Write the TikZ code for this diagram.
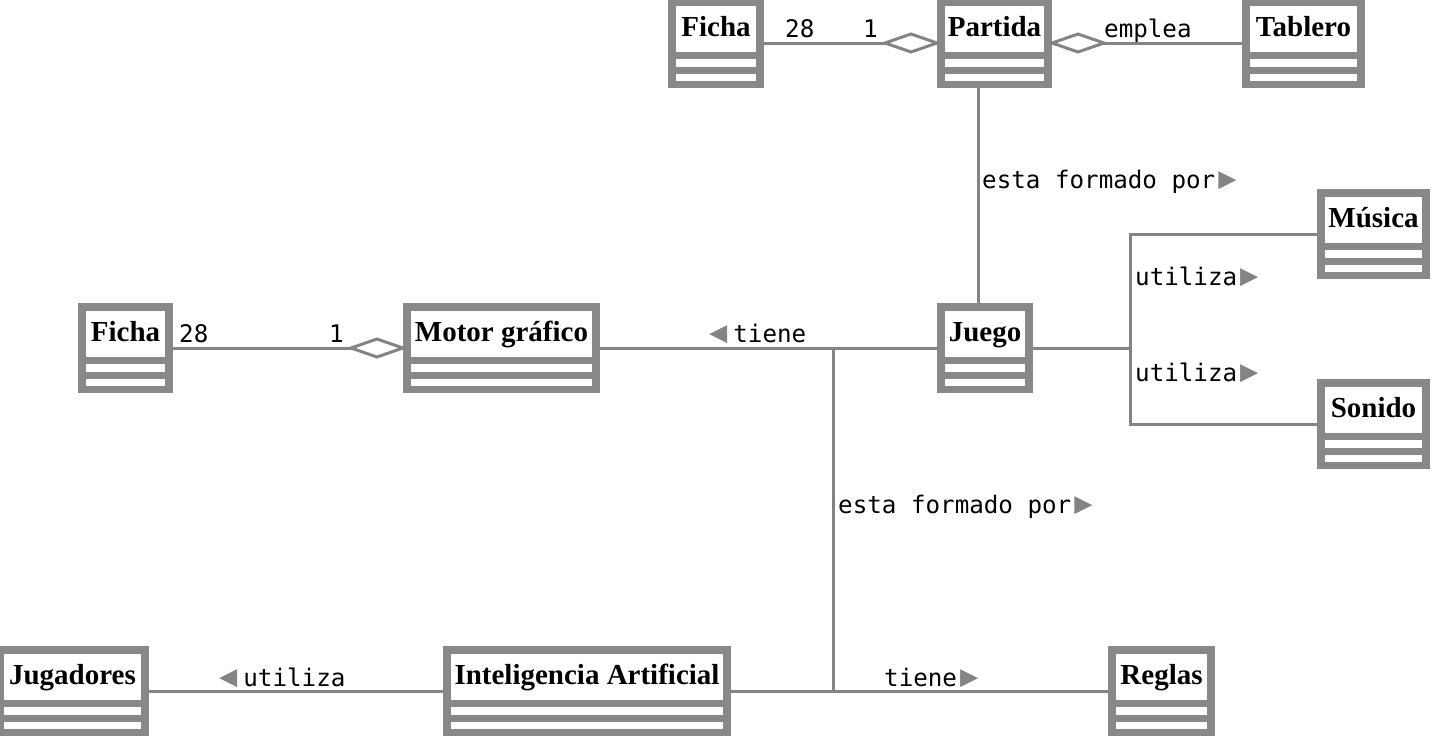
\documentclass[tikz,border=0pt]{standalone}
\usepackage{fontspec}
\setmainfont{Liberation Serif}
\setmonofont{DejaVu Sans Mono}
\definecolor{boxgray}{RGB}{136,136,136}
\definecolor{linegray}{RGB}{132,132,132}
\newcommand{\rtri}{\hspace{3pt}\textcolor{linegray}{\scalebox{1.25}{▶}}}
\newcommand{\ltri}{\textcolor{linegray}{\scalebox{1.25}{◀}}\hspace{6pt}}
\tikzset{
  classbox/.style={rectangle, fill=boxgray, minimum height=90, inner sep=0, outer sep=0,
    path picture={
      \fill[white] ([xshift=8,yshift=-8]path picture bounding box.north west) rectangle ([xshift=-8,yshift=-54]path picture bounding box.north east);
      \fill[white] ([xshift=8,yshift=-61]path picture bounding box.north west) rectangle ([xshift=-8,yshift=-69]path picture bounding box.north east);
      \fill[white] ([xshift=8,yshift=-76]path picture bounding box.north west) rectangle ([xshift=-8,yshift=-83]path picture bounding box.north east);
    }},
  classtitle/.style={anchor=base, inner sep=0, font=\bfseries\fontsize{29}{31}\selectfont},
  conn/.style={draw=linegray, line width=3pt},
  agg/.style={draw=linegray, line width=3pt, fill=white, line join=miter},
  lbl/.style={inner sep=0, anchor=base west, font=\ttfamily\fontsize{24.2}{26}\selectfont},
}
\newcommand{\classnode}[5]{%
  \node[classbox, minimum width=#4] (#1) at (#2,#3) {};
  \node[classtitle] (#1t) at ([yshift=7]#1.center) {#5};}
\begin{document}
\begin{tikzpicture}[x=1pt,y=-1pt]
\useasboundingbox (0,0) rectangle (1434,737);
\clip (0,0) rectangle (1434,737);
% classes
\classnode{fichaT}{716}{43}{96}{Ficha}
\classnode{partida}{994.5}{43}{115}{Partida}
\classnode{tablero}{1303.5}{43}{123}{Tablero}
\classnode{musica}{1373.5}{234}{113}{Música}
\classnode{juego}{985}{348}{96}{Juego}
\classnode{sonido}{1373.5}{424}{113}{Sonido}
\classnode{fichaL}{125.5}{348}{95}{Ficha}
\classnode{motor}{501.5}{348}{197}{Motor gráfico}
\classnode{jugadores}{72.5}{691}{153}{Jugadores}
\classnode{ia}{587}{691}{288}{Inteligencia Artificial}
\classnode{reglas}{1161.5}{691}{107}{Reglas}
% junction points
\coordinate (pj) at ([xshift=-16.5]partida.south);
\coordinate (jr) at (1130,348);
\coordinate (jt) at (833,348);
\coordinate (jb) at (jt |- ia.east);
% connectors
\draw[conn] (fichaT.east) -- (partida.west);
\draw[agg] (partida.west) -- ++(-26,-9) -- ++(-26,9) -- ++(26,9) -- cycle;
\draw[conn] (partida.east) -- (tablero.west);
\draw[agg] (partida.east) -- ++(26,-9) -- ++(26,9) -- ++(-26,9) -- cycle;
\draw[conn] (pj) -- (pj |- juego.north);
\draw[conn] (juego.east) -- (jr);
\draw[conn] (musica.west) -| (jr) |- (sonido.west);
\draw[conn] (fichaL.east) -- (motor.west);
\draw[agg] (motor.west) -- ++(-26,-9) -- ++(-26,9) -- ++(26,9) -- cycle;
\draw[conn] (motor.east) -- (juego.west);
\draw[conn] (jt) -- (jb);
\draw[conn] (jugadores.east) -- (ia.west);
\draw[conn] (ia.east) -- (reglas.west);
% labels
\node[lbl] (m1) at (785,37) {28};
\node[lbl] (m2) at (863,37) {1};
\node[lbl] (e1) at (1104,37) {emplea};
\node[lbl] (f1) at (982,188) {esta formado por\rtri};
\node[lbl] (u1) at (1135,285) {utiliza\rtri};
\node[lbl] (u2) at (1135,381) {utiliza\rtri};
\node[lbl] (t1) at (709,342) {\ltri tiene};
\node[lbl] (m3) at (179,342) {28};
\node[lbl] (m4) at (329,342) {1};
\node[lbl] (f2) at (838,513) {esta formado por\rtri};
\node[lbl] (u3) at (219,686) {\ltri utiliza};
\node[lbl] (t2) at (884,686) {tiene\rtri};
\end{tikzpicture}
\end{document}
